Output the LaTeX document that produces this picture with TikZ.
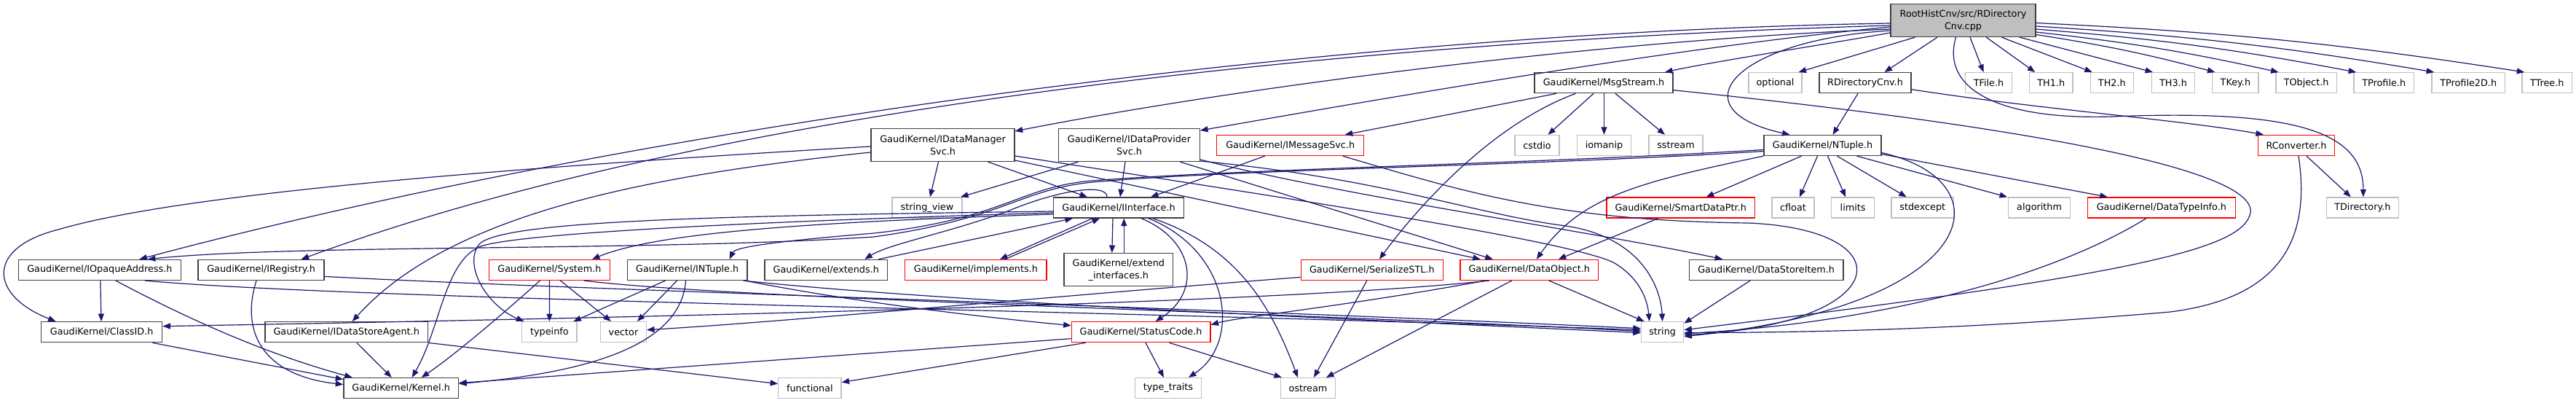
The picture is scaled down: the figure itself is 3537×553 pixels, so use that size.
\documentclass[tikz,border=0pt]{standalone}
\usepackage{fontspec}
\newfontfamily\dv{DejaVu Sans}
\usetikzlibrary{arrows.meta,calc}
\definecolor{edgec}{HTML}{191970}
\definecolor{gcol}{HTML}{BFBFBF}
\definecolor{kcol}{HTML}{404040}
\definecolor{rcol}{HTML}{FF0000}
\begin{document}
\begin{tikzpicture}[x=1pt,y=-1pt,
  nb/.style={draw, line width=1.3pt, inner sep=0pt, align=center, text=black,
    font=\dv\fontsize{12.8}{17}\selectfont, minimum height=28pt, fill=white},
  kb/.style={nb, draw=kcol},
  gb/.style={nb, draw=gcol},
  rb/.style={nb, draw=rcol},
  dep/.style={draw=edgec, line width=1.2pt, -{Triangle[length=10.5pt,width=8pt]}},
]
\fill[white] (0,0) rectangle (3537,553);
\useasboundingbox (0,0) rectangle (3537,553);

% ---------- nodes ----------
\node[kb, fill=gcol, minimum width=199pt, minimum height=45pt] (R) at (2695.5,28) {RootHistCnv/src/RDirectory\\Cnv.cpp};
% row 1
\node[kb, minimum width=190pt] (MS) at (2202,113.7) {GaudiKernel/MsgStream.h};
\node[gb, minimum width=73pt] (opt) at (2437.5,113.7) {optional};
\node[kb, minimum width=126pt] (RDh) at (2561,113.7) {RDirectoryCnv.h};
\node[gb, minimum width=64pt] (TF) at (2730.5,113.7) {TFile.h};
\node[gb, minimum width=59.5pt] (TH1) at (2816.25,113.7) {TH1.h};
\node[gb, minimum width=59pt] (TH2) at (2899.8,113.7) {TH2.h};
\node[gb, minimum width=59.5pt] (TH3) at (2984,113.7) {TH3.h};
\node[gb, minimum width=63.3pt] (TK) at (3069.4,113.7) {TKey.h};
\node[gb, minimum width=83.2pt] (TO) at (3166.6,113.7) {TObject.h};
\node[gb, minimum width=82.2pt] (TP) at (3273.2,113.7) {TProfile.h};
\node[gb, minimum width=100.4pt] (TP2) at (3389.2,113.7) {TProfile2D.h};
\node[gb, minimum width=68.5pt] (TT) at (3497.25,113.7) {TTree.h};
% row 2
\node[kb, minimum width=197pt, minimum height=45pt] (IDM) at (1294.5,199) {GaudiKernel/IDataManager\\Svc.h};
\node[kb, minimum width=193.7pt, minimum height=45pt] (IDP) at (1550.5,199) {GaudiKernel/IDataProvider\\Svc.h};
\node[rb, minimum width=202pt] (IMS) at (1771.7,199.5) {GaudiKernel/IMessageSvc.h};
\node[gb, minimum width=61pt] (cstdio) at (2110.5,199.5) {cstdio};
\node[gb, minimum width=74.4pt] (iomanip) at (2202.5,199.5) {iomanip};
\node[gb, minimum width=74pt] (sstream) at (2301,199.5) {sstream};
\node[kb, minimum width=161pt] (NT) at (2502.5,199.5) {GaudiKernel/NTuple.h};
\node[rb, minimum width=105.5pt] (RC) at (3153,199.5) {RConverter.h};
% row 3
\node[gb, minimum width=96pt] (sv) at (1273,285) {string\_view};
\node[kb, minimum width=178.4pt] (II) at (1536,285) {GaudiKernel/IInterface.h};
\node[rb, minimum width=203.5pt] (SDP) at (2307.7,285) {GaudiKernel/SmartDataPtr.h};
\node[gb, minimum width=58pt] (cfloat) at (2462,285) {cfloat};
\node[gb, minimum width=58.6pt] (limits) at (2544.1,285) {limits};
\node[gb, minimum width=85.3pt] (stdexcept) at (2639.75,285) {stdexcept};
\node[gb, minimum width=84.6pt] (algorithm) at (2800.1,285) {algorithm};
\node[rb, minimum width=202.7pt] (DTI) at (2967.85,285) {GaudiKernel/DataTypeInfo.h};
\node[gb, minimum width=99.3pt] (TDir) at (3243.85,285) {TDirectory.h};
% row 4
\node[kb, minimum width=223.1pt] (IOA) at (136.85,370.4) {GaudiKernel/IOpaqueAddress.h};
\node[kb, minimum width=173pt] (IReg) at (358.6,370.4) {GaudiKernel/IRegistry.h};
\node[rb, minimum width=165.7pt] (Sys) at (754.45,370.4) {GaudiKernel/System.h};
\node[kb, minimum width=164.5pt] (INT) at (943.65,370.4) {GaudiKernel/INTuple.h};
\node[kb, minimum width=168.5pt] (ext) at (1134.25,370.4) {GaudiKernel/extends.h};
\node[rb, minimum width=194.3pt] (impl) at (1339.85,370.4) {GaudiKernel/implements.h};
\node[kb, minimum width=149.6pt, minimum height=45pt] (exi) at (1535.8,370.2) {GaudiKernel/extend\\\_interfaces.h};
\node[rb, minimum width=195.1pt] (SSTL) at (1883.85,370.4) {GaudiKernel/SerializeSTL.h};
\node[rb, minimum width=189.5pt] (DO) at (2099.75,370.4) {GaudiKernel/DataObject.h};
\node[kb, minimum width=211.7pt] (DSI) at (2425.15,370.4) {GaudiKernel/DataStoreItem.h};
% row 5
\node[kb, minimum width=166.1pt] (CID) at (139.65,455.7) {GaudiKernel/ClassID.h};
\node[kb, minimum width=223.4pt] (IDSA) at (475.7,455.7) {GaudiKernel/IDataStoreAgent.h};
\node[gb, minimum width=75.4pt] (typeinfo) at (754.4,455.7) {typeinfo};
\node[gb, minimum width=62.8pt] (vector) at (856,455.7) {vector};
\node[rb, minimum width=190.6pt] (SC) at (1566.6,455.7) {GaudiKernel/StatusCode.h};
\node[gb, minimum width=58.2pt] (str) at (2282.6,455.7) {string};
% row 6
\node[kb, minimum width=157.6pt] (Ker) at (550.7,532.6) {GaudiKernel/Kernel.h};
\node[gb, minimum width=86.1pt] (func) at (1111.85,532.6) {functional};
\node[gb, minimum width=90.7pt] (tt) at (1603.95,532.6) {type\_traits};
\node[gb, minimum width=74.6pt] (ost) at (1796,532.6) {ostream};

% ---------- edges ----------
% root
\draw[dep] ($(R.south)+(-66,0)$) -- ($(opt.north)+(32,0)$);
\draw[dep] ($(R.south)+(-35.5,0)$) -- ($(RDh.north)+(26.5,0)$);
\draw[dep] ($(R.south)+(9.5,0)$) -- ($(TF.north)+(-7,0)$);
\draw[dep] ($(R.south)+(31.7,0)$) -- ($(TH1.north)+(-22,0)$);
\draw[dep] ($(R.south)+(52.8,0)$) -- ($(TH2.north)+(-27,0)$);
\draw[dep] ($(R.south)+(77.5,0)$) -- ($(TH3.north)+(-28,0)$);
\draw[dep] ($(R.east)+(0,19.5)$) to[bend left=3] ($(TK.north)+(-28,0)$);
\draw[dep] ($(R.east)+(0,16)$) to[bend left=3] ($(TO.north)+(-38,0)$);
\draw[dep] ($(R.east)+(0,12)$) to[bend left=3] ($(TP.north)+(-38,0)$);
\draw[dep] ($(R.east)+(0,8)$) to[bend left=3] ($(TP2.north)+(-47,0)$);
\draw[dep] ($(R.east)+(0,3.5)$) to[bend left=3] ($(TT.north)+(-31,0)$);
\draw[dep] ($(R.west)+(0,17)$) .. controls (2500,62) and (2350,85) .. ($(MS.north)+(84,0)$);
\draw[dep] ($(R.west)+(0,14)$) .. controls (2380,55) and (2300,150) .. ($(NT.north)+(-45,0)$);
\draw[dep] ($(R.west)+(0,12)$) .. controls (2200,55) and (1700,120) .. ($(IDM.east)+(0,-19)$);
\draw[dep] ($(R.west)+(0,9)$) .. controls (2300,65) and (1900,135) .. ($(IDP.east)+(0,-20)$);
\draw[dep] ($(R.west)+(0,4)$) .. controls (1800,45) and (850,180) .. ($(IOA.north)+(54.5,0)$);
\draw[dep] ($(R.west)+(0,7)$) .. controls (1900,55) and (1000,140) .. ($(IReg.north)+(55,0)$);
\draw[dep] ($(R.south)+(-10,0)$) .. controls (2665,120) and (2740,165) .. (2900,160) .. controls (3150,150) and (3245,180) .. ($(TDir.north)+(1,0)$);
% RDirectoryCnv.h
\draw[dep] ($(RDh.south)+(-10,0)$) -- ($(NT.north)+(14,0)$);
\draw[dep] ($(RDh.east)+(0,9)$) .. controls (2800,150) and (3000,165) .. ($(RC.north)+(-45,0)$);
% RConverter.h
\draw[dep] ($(RC.south)+(14,0)$) -- ($(TDir.north)+(-16,0)$);
\draw[dep] ($(RC.south)+(3,0)$) .. controls (3175,340) and (3120,410) .. (2980,428) .. controls (2700,452) and (2500,456) .. ($(str.east)+(0,1)$);
% MsgStream.h
\draw[dep] ($(MS.south)+(-14,0)$) -- ($(cstdio.north)+(15,0)$);
\draw[dep] ($(MS.south)+(0.5,0)$) -- (iomanip.north);
\draw[dep] ($(MS.south)+(16,0)$) -- ($(sstream.north)+(-15,0)$);
\draw[dep] ($(MS.south)+(-65,0)$) -- ($(IMS.north)+(75,0)$);
\draw[dep] ($(MS.south)+(-38.5,0)$) .. controls (2050,170) and (1950,280) .. ($(SSTL.north)+(10,0)$);
\draw[dep] ($(MS.east)+(0,10)$) .. controls (2700,165) and (3100,225) .. (3090,292) .. controls (3080,340) and (2950,375) .. ($(str.east)+(0,-3)$);
% IMessageSvc.h
\draw[dep] ($(IMS.south)+(-35,0)$) -- ($(II.north)+(44,0)$);
\draw[dep] ($(IMS.south)+(72,0)$) .. controls (2000,260) and (2130,303) .. (2400,306) .. controls (2620,315) and (2600,445) .. ($(str.east)+(0,4)$);
% IDataManagerSvc.h
\draw[dep] ($(IDM.south)+(-6,0)$) -- ($(sv.north)+(4,0)$);
\draw[dep] ($(IDM.south)+(62,0)$) -- ($(II.north)+(-43,0)$);
\draw[dep] ($(IDM.west)+(0,10)$) .. controls (900,240) and (620,290) .. ($(IDSA.north)+(8,0)$);
\draw[dep] ($(IDM.west)+(0,2)$) .. controls (700,230) and (250,265) .. (80,315) .. controls (-20,340) and (-15,405) .. ($(CID.north)+(-63,0)$);
\draw[dep] ($(IDM.east)+(0,21)$) -- ($(DO.north)+(-67,0)$);
\draw[dep] ($(IDM.east)+(0,15)$) .. controls (1800,277) and (2150,330) .. (2215,360) .. controls (2250,380) and (2262,410) .. ($(str.north)+(-18,0)$);
% IDataProviderSvc.h
\draw[dep] ($(IDP.south)+(-70,0)$) -- ($(sv.north)+(46,0)$);
\draw[dep] ($(IDP.south)+(-5.5,0)$) -- ($(II.north)+(2,0)$);
\draw[dep] ($(IDP.south)+(70,0)$) -- ($(DO.north)+(-50,0)$);
\draw[dep] ($(IDP.east)+(0,20)$) .. controls (1850,270) and (2200,320) .. ($(DSI.north)+(-60,0)$);
\draw[dep] ($(IDP.east)+(0,22)$) .. controls (1900,245) and (2030,295) .. (2150,310) .. controls (2250,325) and (2280,390) .. (str.north);
% IDataStoreAgent.h
\draw[dep] ($(IDSA.south)+(14,0)$) -- ($(Ker.north)+(-13,0)$);
\draw[dep] (IDSA.south east) -- ($(func.west)+(0,-6)$);
% IOpaqueAddress.h
\draw[dep] ($(IOA.south)+(1,0)$) -- ($(CID.north)+(-0.6,0)$);
\draw[dep] ($(IOA.south)+(22,0)$) .. controls (300,460) and (400,495) .. ($(Ker.north)+(-67,0)$);
\draw[dep] ($(IOA.south)+(62,0)$) .. controls (500,412) and (1500,425) .. ($(str.west)+(0,-3)$);
% IRegistry.h
\draw[dep] ($(IReg.south)+(-6.6,0)$) .. controls (330,455) and (360,515) .. ($(Ker.west)+(0,-5)$);
\draw[dep] ($(IReg.east)+(0,9)$) .. controls (800,398) and (1600,420) .. ($(str.west)+(0,-5)$);
% ClassID.h
\draw[dep] ($(CID.south east)+(-14,0)$) -- ($(Ker.west)+(0,-12)$);
% System.h
\draw[dep] (Sys.south) -- (typeinfo.north);
\draw[dep] ($(Sys.south)+(15,0)$) -- ($(vector.north)+(-17,0)$);
\draw[dep] ($(Sys.south)+(-13,0)$) .. controls (680,440) and (620,490) .. ($(Ker.north)+(28,0)$);
\draw[dep] ($(Sys.south east)+(-36,0)$) .. controls (1000,410) and (1800,430) .. ($(str.west)+(0,-1)$);
% INTuple.h
\draw[dep] ($(INT.south)+(-30,0)$) -- ($(typeinfo.north)+(33,0)$);
\draw[dep] ($(INT.south)+(-14,0)$) -- ($(vector.north)+(19,0)$);
\draw[dep] ($(INT.south)+(-2,0)$) .. controls (935,470) and (820,510) .. ($(Ker.east)+(0,-6)$);
\draw[dep] ($(INT.south east)+(-6,0)$) .. controls (1300,415) and (1900,440) .. ($(str.west)+(0,1)$);
\draw[dep] ($(INT.south east)+(-4,0)$) .. controls (1200,420) and (1400,440) .. ($(SC.west)+(0,-9)$);
% IInterface.h
\draw[dep] ($(II.west)+(0,7)$) .. controls (1100,302) and (720,318) .. (660,338) .. controls (610,358) and (605,450) .. ($(Ker.north)+(15,0)$);
\draw[dep] ($(II.west)+(0,5)$) .. controls (1000,296) and (690,302) .. (658,335) .. controls (635,365) and (670,420) .. ($(typeinfo.north)+(-35,0)$);
\draw[dep] ($(II.west)+(0,9)$) .. controls (1100,305) and (900,320) .. ($(Sys.north east)+(-25,0)$);
\draw[dep] ($(II.north)+(-16,0)$) .. controls (1520,250) and (1450,262) .. (1383,290) .. controls (1300,320) and (1220,335) .. ($(ext.north)+(53,0)$);
\draw[dep] ($(ext.north)+(72,0)$) -- ($(II.south)+(-63,0)$);
\draw[dep] ($(II.south)+(-36,0)$) -- ($(impl.north)+(33,0)$);
\draw[dep] ($(impl.north)+(40,0)$) -- ($(II.south)+(-26,0)$);
\draw[dep] ($(II.south)+(-8,0)$) -- ($(exi.north)+(-9,0)$);
\draw[dep] ($(exi.north)+(7.5,0)$) -- ($(II.south)+(7.3,0)$);
\draw[dep] ($(II.south)+(31,0)$) .. controls (1640,330) and (1650,400) .. ($(SC.north)+(20,0)$);
\draw[dep] ($(II.south)+(41,0)$) .. controls (1690,345) and (1705,470) .. ($(tt.north)+(28,0)$);
\draw[dep] ($(II.south)+(47,0)$) .. controls (1700,340) and (1745,420) .. ($(ost.north)+(-14,0)$);
% StatusCode.h
\draw[dep] ($(SC.south)+(6.4,0)$) -- ($(tt.north)+(-6,0)$);
\draw[dep] ($(SC.south)+(39,0)$) -- ($(ost.north)+(-36,0)$);
\draw[dep] ($(SC.west)+(0,9)$) -- ($(Ker.east)+(0,-7)$);
\draw[dep] ($(SC.south west)+(20,0)$) -- ($(func.east)+(0,-8)$);
% SerializeSTL.h
\draw[dep] ($(SSTL.south)+(-7,0)$) -- ($(ost.north)+(8,0)$);
\draw[dep] ($(SSTL.west)+(0,10)$) .. controls (1400,410) and (1100,440) .. ($(vector.east)+(0,-3)$);
% DataObject.h
\draw[dep] ($(DO.south)+(27,0)$) -- ($(str.north)+(-25,0)$);
\draw[dep] ($(DO.south)+(-24,0)$) -- ($(ost.north)+(25,0)$);
\draw[dep] ($(DO.south)+(-55,0)$) .. controls (1800,412) and (1100,432) .. ($(CID.east)+(0,-8)$);
\draw[dep] ($(DO.south)+(-60,0)$) .. controls (1850,420) and (1700,435) .. ($(SC.east)+(0,-10)$);
% SmartDataPtr.h
\draw[dep] ($(SDP.south)+(-31,0)$) -- ($(DO.north)+(40,0)$);
% DataStoreItem.h
\draw[dep] ($(DSI.south)+(-22,0)$) -- ($(str.east)+(0,-12)$);
% NTuple.h
\draw[dep] ($(NT.south)+(-7,0)$) -- ($(cfloat.north)+(9,0)$);
\draw[dep] ($(NT.south)+(7,0)$) -- ($(limits.north)+(-10,0)$);
\draw[dep] ($(NT.south)+(20,0)$) -- ($(stdexcept.north)+(-22,0)$);
\draw[dep] ($(NT.south)+(47,0)$) -- ($(algorithm.north)+(-44,0)$);
\draw[dep] ($(NT.east)+(0,12)$) -- ($(DTI.north)+(-74,0)$);
\draw[dep] ($(NT.south)+(-29,0)$) -- ($(SDP.north)+(35,0)$);
\draw[dep] (NT.south west) .. controls (2250,250) and (2170,270) .. ($(DO.north)+(10,0)$);
\draw[dep] ($(NT.east)+(0,10)$) .. controls (2760,250) and (2720,420) .. ($(str.east)+(0,6)$);
\draw[dep] ($(NT.west)+(0,8)$) .. controls (2100,228) and (1700,232) .. (1500,250) .. controls (1400,260) and (1380,300) .. (1200,325) .. controls (900,345) and (400,335) .. ($(IOA.north)+(66,0)$);
\draw[dep] ($(NT.west)+(0,6)$) .. controls (2100,225) and (1700,232) .. (1500,248) .. controls (1400,256) and (1380,300) .. (1200,320) .. controls (1080,330) and (1010,338) .. ($(INT.north)+(58,0)$);
% DataTypeInfo.h
\draw[dep] ($(DTI.south)+(-21,0)$) .. controls (2800,390) and (2550,445) .. ($(str.east)+(0,2)$);
\end{tikzpicture}
\end{document}
